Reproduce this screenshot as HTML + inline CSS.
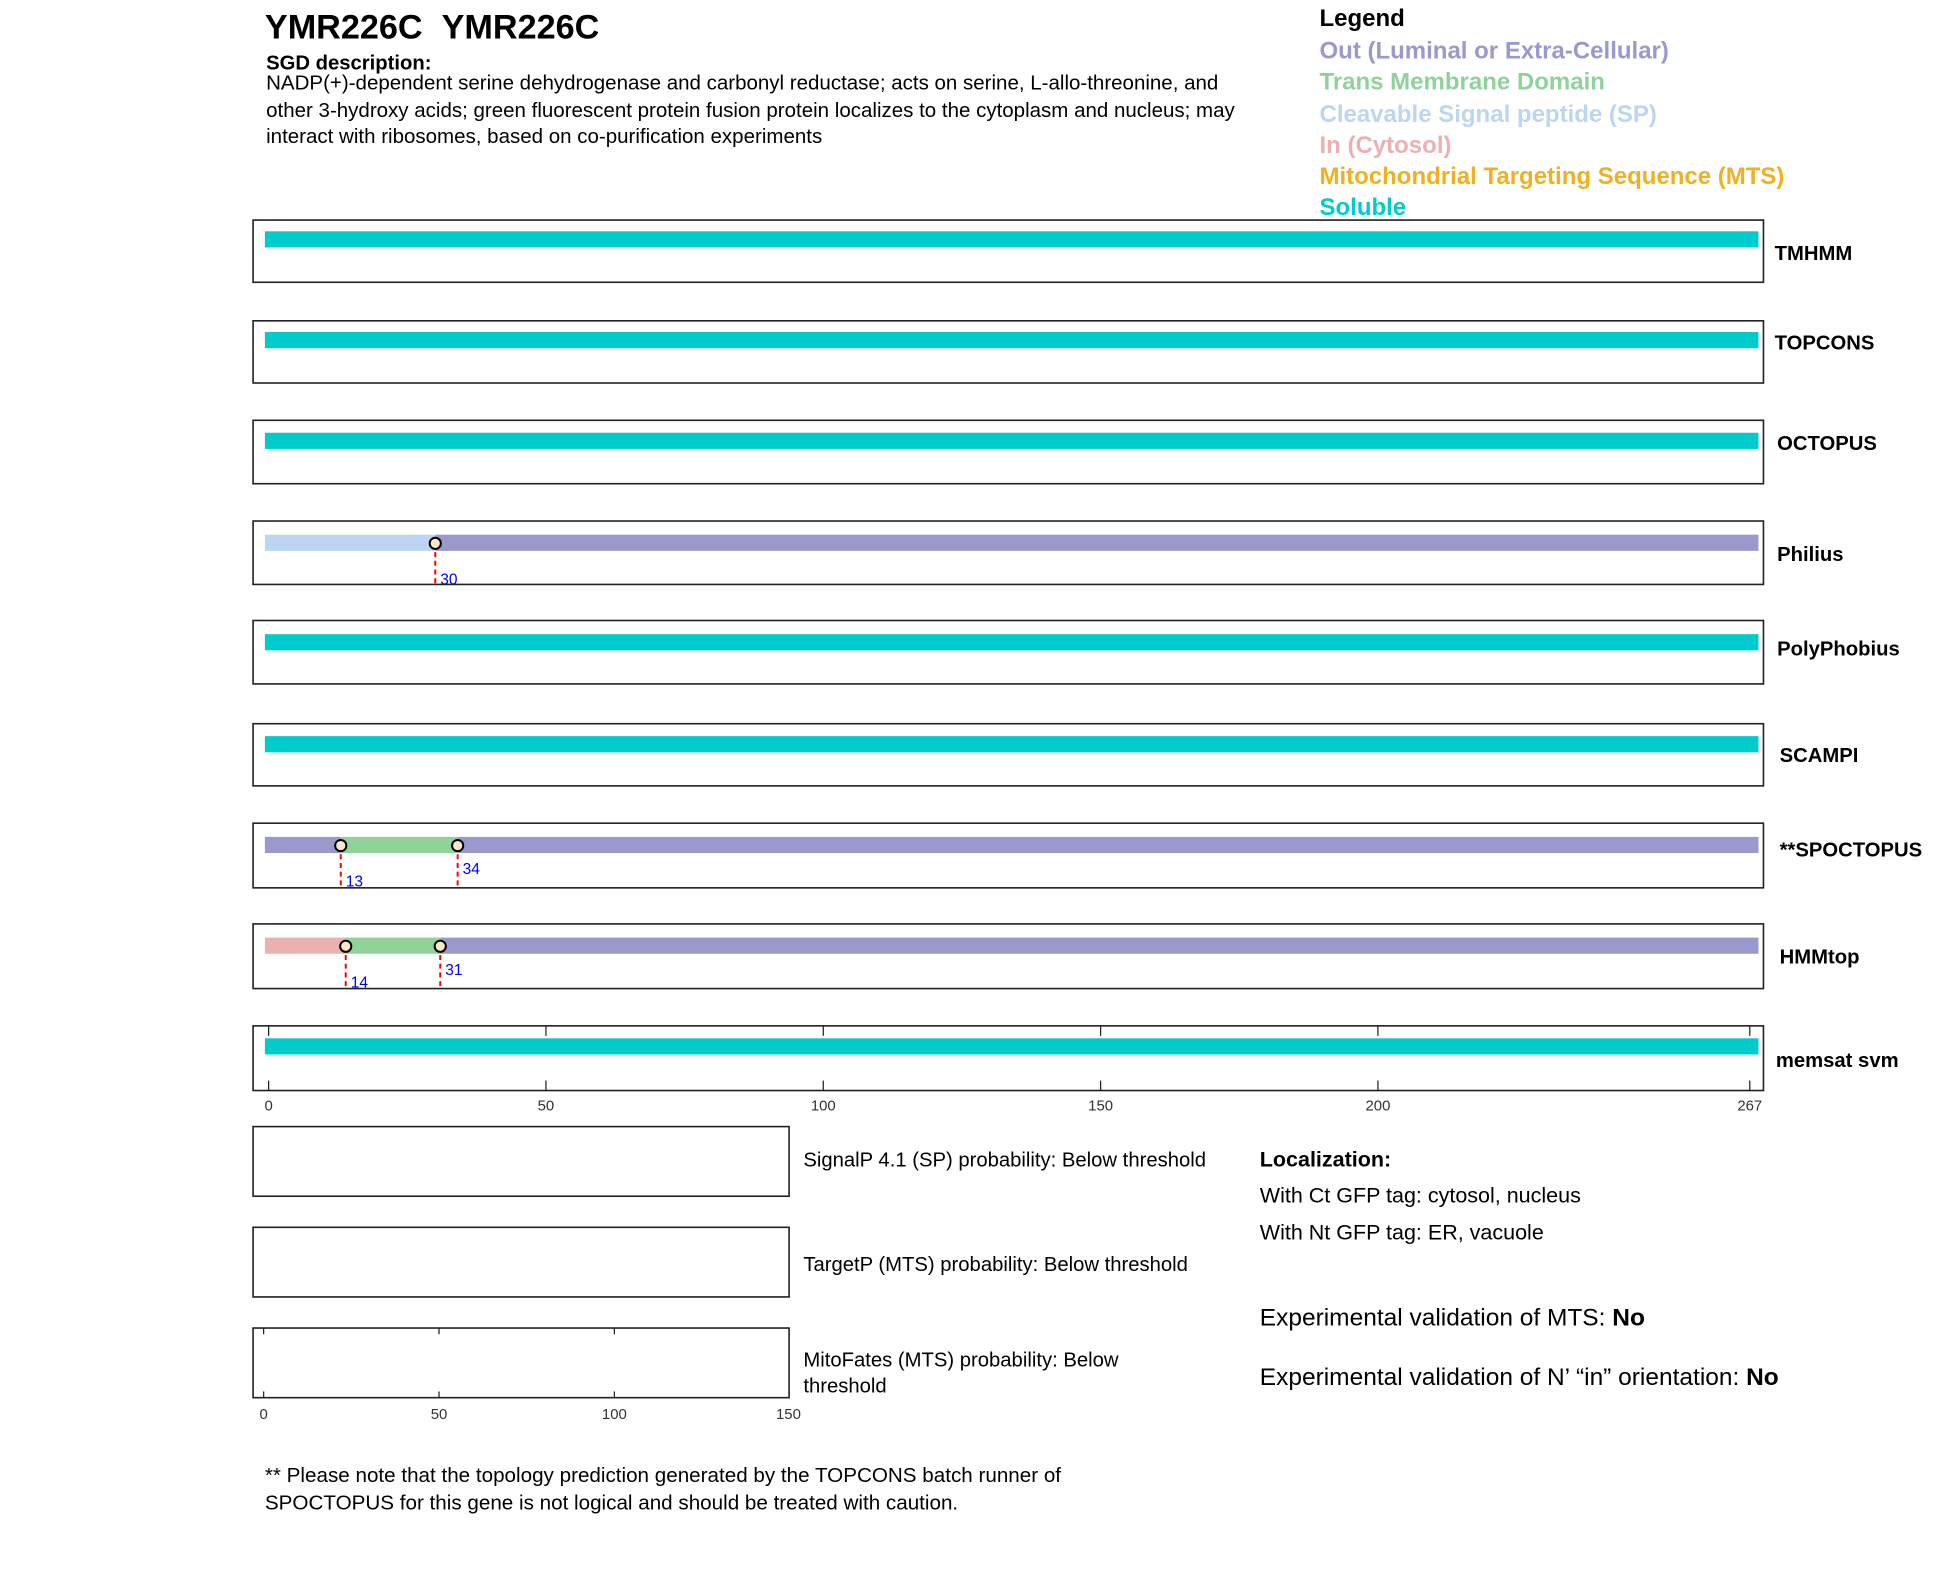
<!DOCTYPE html>
<html><head><meta charset="utf-8"><style>html,body{margin:0;padding:0;background:#fff}svg{display:block}</style></head>
<body>
<svg xmlns="http://www.w3.org/2000/svg" width="1950" height="1573" viewBox="0 0 1568 1265" preserveAspectRatio="none" font-family="Liberation Sans, Arial, sans-serif">
<rect width="1568" height="1265" fill="#fff"/>
<text x="213" y="31" font-size="27.5" font-weight="bold">YMR226C&#160;&#160;YMR226C</text>
<text x="214" y="56" font-size="16.3" font-weight="bold">SGD description:</text>
<g font-size="16.5">
<text x="214" y="72">NADP(+)-dependent serine dehydrogenase and carbonyl reductase; acts on serine, L-allo-threonine, and</text>
<text x="214" y="94">other 3-hydroxy acids; green fluorescent protein fusion protein localizes to the cytoplasm and nucleus; may</text>
<text x="214" y="115">interact with ribosomes, based on co-purification experiments</text>
</g>
<g font-size="19.3" font-weight="bold">
<text x="1061" y="21">Legend</text>
<text x="1061" y="47" fill="#9999cc">Out (Luminal or Extra-Cellular)</text>
<text x="1061" y="72" fill="#90d29a">Trans Membrane Domain</text>
<text x="1061" y="98" fill="#bbd5f2">Cleavable Signal peptide (SP)</text>
<text x="1061" y="123" fill="#ebb0b0">In (Cytosol)</text>
<text x="1061" y="148" fill="#f0b020">Mitochondrial Targeting Sequence (MTS)</text>
<text x="1061" y="173" fill="#00cccc">Soluble</text>
</g>
<g fill="none" stroke="#222" stroke-width="1.3">
<rect x="203.5" y="177" width="1214.5" height="50"/>
<rect x="203.5" y="258" width="1214.5" height="50"/>
<rect x="203.5" y="338" width="1214.5" height="51"/>
<rect x="203.5" y="419" width="1214.5" height="51"/>
<rect x="203.5" y="499" width="1214.5" height="51"/>
<rect x="203.5" y="582" width="1214.5" height="50"/>
<rect x="203.5" y="662" width="1214.5" height="52"/>
<rect x="203.5" y="743" width="1214.5" height="52"/>
<rect x="203.5" y="825" width="1214.5" height="52"/>
</g>
<g fill="#00cccc">
<rect x="213" y="186" width="1201" height="13"/>
<rect x="213" y="267" width="1201" height="13"/>
<rect x="213" y="348" width="1201" height="13"/>
<rect x="213" y="510" width="1201" height="13"/>
<rect x="213" y="592" width="1201" height="13"/>
<rect x="213" y="835" width="1201" height="13"/>
</g>
<rect x="213" y="430" width="137" height="13" fill="#bbd5f2"/>
<rect x="350" y="430" width="1064" height="13" fill="#9999cc"/>
<rect x="213" y="673" width="61" height="13" fill="#9999cc"/>
<rect x="274" y="673" width="94" height="13" fill="#90d29a"/>
<rect x="368" y="673" width="1046" height="13" fill="#9999cc"/>
<rect x="213" y="754" width="65" height="13" fill="#ebb0b0"/>
<rect x="278" y="754" width="76" height="13" fill="#90d29a"/>
<rect x="354" y="754" width="1060" height="13" fill="#9999cc"/>
<g stroke="#f00" stroke-width="1.6" stroke-dasharray="4,3">
<line x1="350" y1="437" x2="350" y2="470"/>
<line x1="274" y1="680" x2="274" y2="714"/>
<line x1="368" y1="680" x2="368" y2="714"/>
<line x1="278" y1="761" x2="278" y2="795"/>
<line x1="354" y1="761" x2="354" y2="795"/>
</g>
<g fill="#fde8c8" stroke="#000" stroke-width="1.6">
<circle cx="350" cy="437" r="4.5"/>
<circle cx="274" cy="680" r="4.5"/>
<circle cx="368" cy="680" r="4.5"/>
<circle cx="278" cy="761" r="4.5"/>
<circle cx="354" cy="761" r="4.5"/>
</g>
<g fill="#0000ee" font-size="12.5">
<text x="354" y="470">30</text>
<text x="278" y="713">13</text>
<text x="372" y="703">34</text>
<text x="282" y="794">14</text>
<text x="358" y="784">31</text>
</g>
<g font-size="16.3" font-weight="bold">
<text x="1427" y="209">TMHMM</text>
<text x="1427" y="281">TOPCONS</text>
<text x="1429" y="362">OCTOPUS</text>
<text x="1429" y="451">Philius</text>
<text x="1429" y="527">PolyPhobius</text>
<text x="1431" y="613">SCAMPI</text>
<text x="1431" y="689">**SPOCTOPUS</text>
<text x="1431" y="775">HMMtop</text>
<text x="1428" y="858">memsat svm</text>
</g>
<g stroke="#222" stroke-width="1">
<line x1="216" y1="825" x2="216" y2="833"/><line x1="216" y1="869" x2="216" y2="877"/>
<line x1="439" y1="825" x2="439" y2="833"/><line x1="439" y1="869" x2="439" y2="877"/>
<line x1="662" y1="825" x2="662" y2="833"/><line x1="662" y1="869" x2="662" y2="877"/>
<line x1="885" y1="825" x2="885" y2="833"/><line x1="885" y1="869" x2="885" y2="877"/>
<line x1="1108" y1="825" x2="1108" y2="833"/><line x1="1108" y1="869" x2="1108" y2="877"/>
<line x1="1407" y1="825" x2="1407" y2="833"/><line x1="1407" y1="869" x2="1407" y2="877"/>
</g>
<g font-size="12" fill="#333" text-anchor="middle">
<text x="216" y="893">0</text><text x="439" y="893">50</text><text x="662" y="893">100</text>
<text x="885" y="893">150</text><text x="1108" y="893">200</text><text x="1407" y="893">267</text>
</g>
<g fill="none" stroke="#222" stroke-width="1.3">
<rect x="203.5" y="906" width="431" height="56"/>
<rect x="203.5" y="987" width="431" height="56"/>
<rect x="203.5" y="1068" width="431" height="56"/>
</g>
<g stroke="#222" stroke-width="1">
<line x1="212" y1="1068" x2="212" y2="1073"/><line x1="212" y1="1119" x2="212" y2="1124"/>
<line x1="353" y1="1068" x2="353" y2="1073"/><line x1="353" y1="1119" x2="353" y2="1124"/>
<line x1="494" y1="1068" x2="494" y2="1073"/><line x1="494" y1="1119" x2="494" y2="1124"/>
</g>
<g font-size="12" fill="#333" text-anchor="middle">
<text x="212" y="1141">0</text><text x="353" y="1141">50</text><text x="494" y="1141">100</text><text x="634" y="1141">150</text>
</g>
<g font-size="16.3">
<text x="646" y="938">SignalP 4.1 (SP) probability: Below threshold</text>
<text x="646" y="1022">TargetP (MTS) probability: Below threshold</text>
<text x="646" y="1099">MitoFates (MTS) probability: Below</text>
<text x="646" y="1120">threshold</text>
</g>
<g font-size="16.6">
<text x="213" y="1192">** Please note that the topology prediction generated by the TOPCONS batch runner of</text>
<text x="213" y="1214">SPOCTOPUS for this gene is not logical and should be treated with caution.</text>
</g>
<text x="1013" y="938" font-size="17.3" font-weight="bold">Localization:</text>
<text x="1013" y="967" font-size="17.3">With Ct GFP tag: cytosol, nucleus</text>
<text x="1013" y="997" font-size="17.3">With Nt GFP tag: ER, vacuole</text>
<text x="1013" y="1066" font-size="19.7">Experimental validation of MTS: <tspan font-weight="bold">No</tspan></text>
<text x="1013" y="1114" font-size="19.7">Experimental validation of N’ “in” orientation: <tspan font-weight="bold">No</tspan></text>
</svg>
</body></html>
